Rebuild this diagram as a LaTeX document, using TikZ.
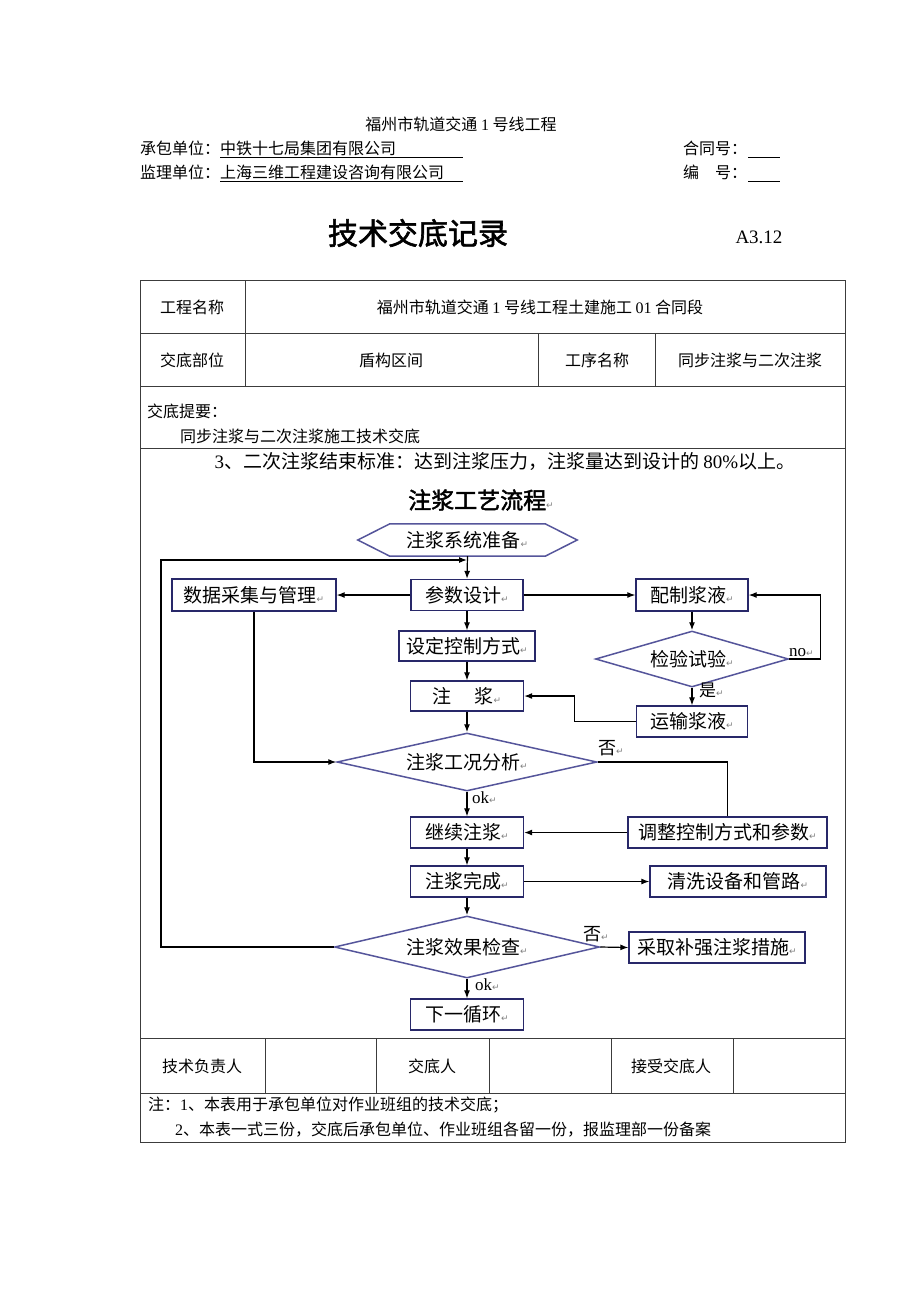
\documentclass[tikz,border=0pt]{standalone}
\usepackage{fontspec}
\setmainfont{Noto Sans CJK SC}
\newfontfamily\latinf{Liberation Serif}
\newfontfamily\boldcjk[FakeBold=2]{Noto Sans CJK SC}
\newfontfamily\symf{DejaVu Sans}
\usetikzlibrary{shapes.geometric, arrows.meta, calc}
\definecolor{boxblue}{RGB}{40,40,105}
\definecolor{decblue}{RGB}{85,85,155}
\definecolor{rulegray}{RGB}{60,60,60}
\newcommand{\fs}[1]{\fontsize{#1}{#1}\selectfont}
\newcommand{\rmk}{{\symf\fs{9}\color{gray}↵}}
\tikzset{
  proc/.style={draw=boxblue, line width=1.3pt, inner sep=0pt, font=\fs{19}},
  dec/.style={diamond, draw=decblue, line width=1.5pt, inner sep=0pt, aspect=4, font=\fs{19}},
  arr/.style={-{Latex[length=8pt,width=6pt]}, line width=1.2pt},
  lnk/.style={line width=1.2pt},
  cell/.style={font=\fs{16}, inner sep=0pt},
  tline/.style={draw=rulegray, line width=1pt},
}
\begin{document}
\begin{tikzpicture}[x=1pt, y=-1pt]
    \useasboundingbox (0,0) rectangle (920,1302);
    \fill[white] (0,0) rectangle (920,1302);
    \node[cell] (proj) at (461,124) {福州市轨道交通 {\latinf 1} 号线工程};
    \node[cell, anchor=west] (contr) at (140,148) {承包单位：中铁十七局集团有限公司};
    \node[cell, anchor=west] (superv) at (140,172) {监理单位：上海三维工程建设咨询有限公司};
    \node[cell, anchor=west] (htno) at (683,148) {合同号：};
    \node[cell, anchor=west] (bhno) at (683,172) {编\hspace{1em}号：};
    \draw[line width=0.8pt] (220,157) -- (463,157) (220,181) -- (463,181);
    \draw[line width=0.8pt] (748,157) -- (780,157) (748,181) -- (780,181);
    \node[font=\boldcjk\fs{30}, inner sep=0pt] (title) at (418,233) {技术交底记录};
    \node[font=\latinf\fs{19}, inner sep=0pt] (code) at (759,237) {A3.12};
    \draw[tline] (140,280) rectangle (845,1142);
    \foreach \y in {333,386,448,1038,1093}
        \draw[tline] (140,\y) -- (845,\y);
    \draw[tline] (245,280) -- (245,386);
    \foreach \x in {538,655}
        \draw[tline] (\x,333) -- (\x,386);
    \foreach \x in {265,376,489,611,733}
        \draw[tline] (\x,1038) -- (\x,1093);
    \node[cell] (namel) at (192,307) {工程名称};
    \node[cell] (namev) at (540,307) {福州市轨道交通 {\latinf 1} 号线工程土建施工 {\latinf 01} 合同段};
    \node[cell] (partl) at (192,360) {交底部位};
    \node[cell] (partv) at (391,360) {盾构区间};
    \node[cell] (stepl) at (597,360) {工序名称};
    \node[cell] (stepv) at (750,360) {同步注浆与二次注浆};
    \node[cell, anchor=west] (suml) at (147,411) {交底提要：};
    \node[cell, anchor=west] (sumv) at (180,436) {同步注浆与二次注浆施工技术交底};
    \node[font=\fs{19}, inner sep=0pt] (std) at (505,461) {{\latinf 3}、二次注浆结束标准：达到注浆压力，注浆量达到设计的 {\latinf 80\%}以上。};
    \node[font=\boldcjk\fs{23}, inner sep=0pt] (ftitle) at (481,500) {注浆工艺流程\rmk};
    \node[font=\fs{19}, inner sep=0pt, minimum width=155pt, minimum height=32pt] (prep) at (467.5,540) {注浆系统准备\rmk};
    \draw[draw=decblue, line width=1.5pt] ($(prep.west)+(-32,0)$) -- (prep.north west) -- (prep.north east)
        -- ($(prep.east)+(32,0)$) -- (prep.south east) -- (prep.south west) -- cycle;
    \node[proc, minimum width=112pt, minimum height=31pt] (param) at (467,595) {参数设计\rmk};
    \node[proc, minimum width=164pt, minimum height=32pt] (data) at (254,595) {数据采集与管理\rmk};
    \node[proc, minimum width=112pt, minimum height=32pt] (mix) at (692,595) {配制浆液\rmk};
    \node[proc, minimum width=136pt, minimum height=30pt] (ctrl) at (467,646) {设定控制方式\rmk};
    \node[dec, minimum width=193pt, minimum height=56pt] (test) at (692,659) {检验试验\rmk};
    \node[proc, minimum width=113pt, minimum height=30pt] (inj) at (467,696) {注\hspace{1.2em}浆\rmk};
    \node[proc, minimum width=111pt, minimum height=31pt] (transp) at (692,721.5) {运输浆液\rmk};
    \node[dec, minimum width=260pt, minimum height=58pt] (ana) at (467,762) {注浆工况分析\rmk};
    \node[proc, minimum width=113pt, minimum height=31pt] (cont) at (467,832.5) {继续注浆\rmk};
    \node[proc, minimum width=199pt, minimum height=31pt] (adj) at (727.5,832.5) {调整控制方式和参数\rmk};
    \node[proc, minimum width=113pt, minimum height=31pt] (done) at (467,881.5) {注浆完成\rmk};
    \node[proc, minimum width=176pt, minimum height=31pt] (clean) at (738,881.5) {清洗设备和管路\rmk};
    \node[dec, minimum width=265pt, minimum height=62pt] (check) at (467,947) {注浆效果检查\rmk};
    \node[proc, minimum width=176pt, minimum height=31pt] (reinf) at (717,947.5) {采取补强注浆措施\rmk};
    \node[proc, minimum width=113pt, minimum height=31pt] (nextc) at (467,1014.5) {下一循环\rmk};
    \coordinate (loopin) at (467,560);
    \coordinate (loopc) at (161,560);
    \draw[arr] (prep.south) -- (param.north);
    \draw[arr] (check.west) -| (loopc) -- (loopin);
    \draw[arr] (param.west) -- (data.east);
    \draw[arr] (param.east) -- (mix.west);
    \draw[arr] (param.south) -- (ctrl.north);
    \draw[arr] (ctrl.south) -- (inj.north);
    \draw[arr] (data.south) |- (ana.west);
    \draw[arr] (mix.south) -- (test.north);
    \draw[arr] (test.east) -- ++(31,0) |- (mix.east);
    \draw[arr] (test.south) -- (transp.north);
    \draw[arr] (transp.west) -- ++(-61,0) |- (inj.east);
    \draw[arr] (inj.south) -- (ana.north);
    \draw[arr] (ana.south) -- (cont.north);
    \draw[lnk] (ana.east) -| (adj.north);
    \draw[arr] (adj.west) -- (cont.east);
    \draw[arr] (cont.south) -- (done.north);
    \draw[arr] (done.east) -- (clean.west);
    \draw[arr] (done.south) -- (check.north);
    \draw[arr] (check.east) -- (reinf.west);
    \draw[arr] (check.south) -- (nextc.north);
    \node[font=\latinf\fs{17}, inner sep=0pt, anchor=south west] (nolbl) at (789,657) {no\rmk};
    \node[font=\fs{17}, inner sep=0pt, anchor=west] (yeslbl) at (699,690) {是\rmk};
    \node[font=\fs{18}, inner sep=0pt, anchor=west] (notanal) at (598,748) {否\rmk};
    \node[font=\latinf\fs{17}, inner sep=0pt, anchor=west] (okanal) at (472,798) {ok\rmk};
    \node[font=\fs{18}, inner sep=0pt, anchor=west] (notchk) at (583,934) {否\rmk};
    \node[font=\latinf\fs{17}, inner sep=0pt, anchor=west] (okchk) at (475,985) {ok\rmk};
    \node[cell] (techl) at (202,1066) {技术负责人};
    \node[cell] (givel) at (432,1066) {交底人};
    \node[cell] (takel) at (671,1066) {接受交底人};
    \node[cell, anchor=west] (note1) at (148,1105) {注：{\latinf 1}、本表用于承包单位对作业班组的技术交底；};
    \node[cell, anchor=west] (note2) at (175,1130) {{\latinf 2}、本表一式三份，交底后承包单位、作业班组各留一份，报监理部一份备案};
\end{tikzpicture}
\end{document}
